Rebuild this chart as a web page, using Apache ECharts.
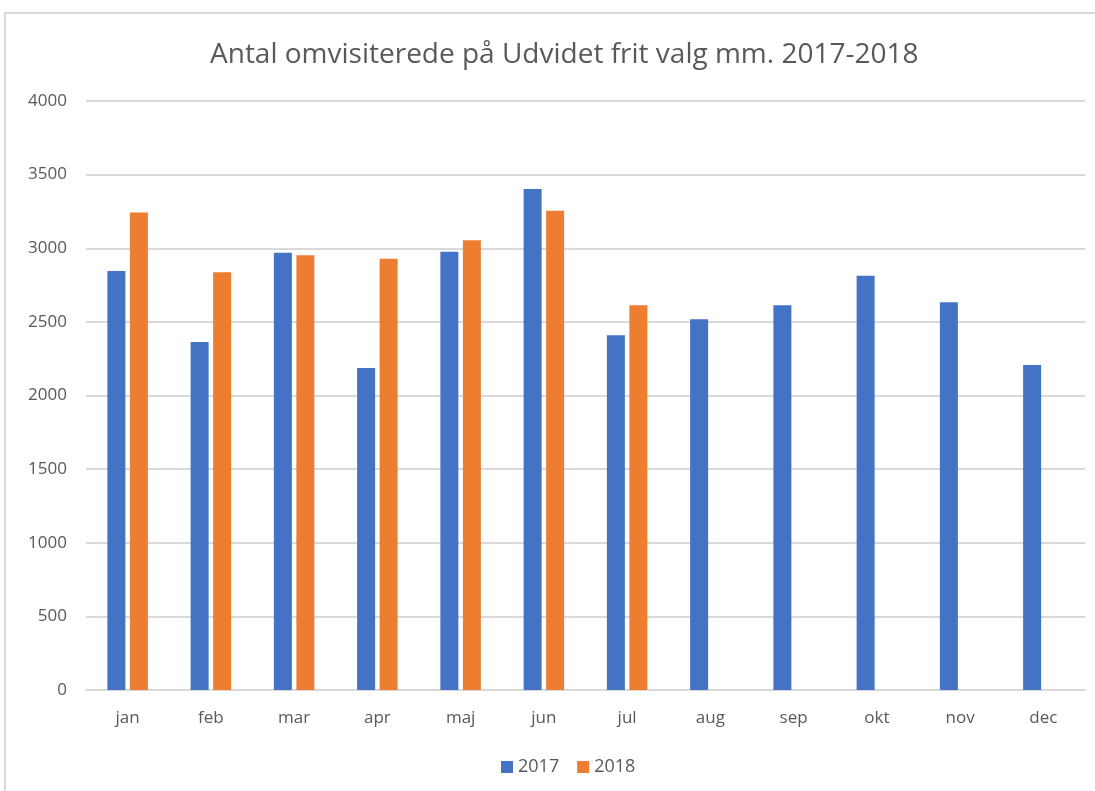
<!DOCTYPE html>
<html>
<head>
<meta charset="utf-8">
<script src="https://cdn.jsdelivr.net/npm/echarts@6/dist/echarts.min.js"></script>
<style>
  html, body { margin: 0; padding: 0; background: #fff; }
  #chart { width: 1095px; height: 791px; }
</style>
</head>
<body>
<div id="chart"></div>
<script>
// måneder og værdier
const months = ['jan', 'feb', 'mar', 'apr', 'maj', 'jun', 'jul', 'aug', 'sep', 'okt', 'nov', 'dec']
const values2017 = [2845, 2363, 2970, 2187, 2977, 3402, 2409, 2517, 2613, 2814, 2633, 2207]
const values2018 = [3242, 2837, 2952, 2929, 3054, 3255, 2613, null, null, null, null, null]
const seriesNames = ['2017', '2018']

const textColor = '#595959'
const lineColor = '#d9d9d9'
const fontFamily = '"Open Sans", "Liberation Sans", sans-serif'

const chart = echarts.init(document.getElementById('chart'))

chart.setOption({
  backgroundColor: '#fff',
  animation: false,
  textStyle: { fontFamily },
  graphic: [
    {
      type: 'rect',
      shape: { x: 5, y: 13, width: 1110, height: 800 },
      style: { fill: 'none', stroke: lineColor, lineWidth: 2 },
      silent: true
    }
  ],
  title: {
    text: 'Antal omvisiterede på Udvidet frit valg mm. 2017-2018',
    left: 205,
    top: 36,
    textStyle: { color: textColor, fontSize: 28, fontWeight: 'normal', fontFamily }
  },
  legend: {
    data: seriesNames,
    bottom: 10,
    left: 496,
    itemWidth: 12,
    itemHeight: 12,
    itemGap: 18,
    icon: 'rect',
    textStyle: { color: textColor, fontSize: 18, fontFamily }
  },
  grid: {
    left: 86,
    right: 10,
    top: 101,
    bottom: 101
  },
  xAxis: {
    type: 'category',
    data: months,
    axisLine: { lineStyle: { color: lineColor, width: 2 } },
    axisTick: { show: false },
    axisLabel: { color: textColor, fontSize: 17, margin: 20, fontFamily }
  },
  yAxis: {
    type: 'value',
    min: 0,
    max: 4000,
    interval: 500,
    axisLine: { show: false },
    axisTick: { show: false },
    axisLabel: { color: textColor, fontSize: 17, margin: 19, fontFamily, formatter: v => String(v) },
    splitLine: { lineStyle: { color: lineColor, width: 2 } }
  },
  series: [
    {
      name: seriesNames[0],
      type: 'bar',
      data: values2017,
      barWidth: 18,
      barGap: '25%',
      itemStyle: { color: '#4472c4' }
    },
    {
      name: seriesNames[1],
      type: 'bar',
      data: values2018,
      barWidth: 18,
      itemStyle: { color: '#ed7d31' }
    }
  ]
})
</script>
</body>
</html>
